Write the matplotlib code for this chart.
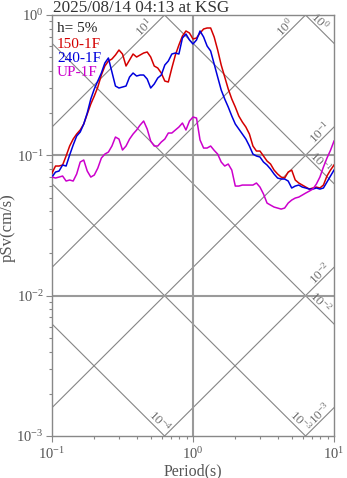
import numpy as np
import matplotlib
matplotlib.use('Agg')
import matplotlib.pyplot as plt

plt.rcParams['font.family'] = ['Liberation Serif', 'DejaVu Serif']
plt.rcParams['mathtext.fontset'] = 'custom'
plt.rcParams['mathtext.rm'] = 'Liberation Serif'
plt.rcParams['mathtext.it'] = 'Liberation Serif:italic'
plt.rcParams['mathtext.bf'] = 'Liberation Serif:bold'

title = "2025/08/14 04:13 at KSG"
damping_label = "h= 5%"
series_names = ["150-1F", "240-1F", "UP-1F"]
series_colors = ["#d40000", "#0000dd", "#cc00cc"]

period = [0.1, 0.1059, 0.1122, 0.1189, 0.1259, 0.1334, 0.1413, 0.1496, 0.1585, 0.1679,
          0.1778, 0.1884, 0.1995, 0.2113, 0.2239, 0.2371, 0.2512, 0.2661, 0.2818, 0.2985,
          0.3162, 0.335, 0.3548, 0.3758, 0.3981, 0.4217, 0.4467, 0.4732, 0.5012, 0.5309,
          0.5623, 0.5957, 0.631, 0.6683, 0.7079, 0.7499, 0.7943, 0.8414, 0.8913, 0.9441,
          1.0, 1.059, 1.122, 1.189, 1.259, 1.334, 1.413, 1.496, 1.585, 1.679,
          1.778, 1.884, 1.995, 2.113, 2.239, 2.371, 2.512, 2.661, 2.818, 2.985,
          3.162, 3.35, 3.548, 3.758, 3.981, 4.217, 4.467, 4.732, 5.012, 5.309,
          5.623, 5.957, 6.31, 6.683, 7.079, 7.499, 7.943, 8.414, 8.913, 9.441, 10.0]

sv_150 = [0.0748, 0.0839, 0.0839, 0.0853, 0.0989, 0.1165, 0.1306, 0.1418, 0.1515, 0.1671,
          0.197, 0.232, 0.2647, 0.3067, 0.3735, 0.433, 0.47, 0.4857, 0.5187, 0.563,
          0.5272, 0.433, 0.4777, 0.5272, 0.5019, 0.5187, 0.536, 0.5449, 0.5019, 0.433,
          0.419, 0.3859, 0.3384, 0.333, 0.419, 0.5187, 0.6112, 0.7086, 0.7691, 0.744,
          0.6744, 0.6856, 0.744, 0.7946, 0.808, 0.808, 0.697, 0.563, 0.4401, 0.3614,
          0.2969, 0.2519, 0.2209, 0.1906, 0.1727, 0.1591, 0.1418, 0.1165, 0.1073, 0.1073,
          0.0989, 0.0911, 0.0867, 0.0785, 0.0736, 0.07, 0.0689, 0.076, 0.0785, 0.0667,
          0.0635, 0.0614, 0.0594, 0.0575, 0.0585, 0.0594, 0.0585, 0.0614, 0.0712, 0.0785, 0.0853]

sv_240 = [0.07, 0.076, 0.0773, 0.0853, 0.0839, 0.1005, 0.1184, 0.1372, 0.1466, 0.1671,
          0.2001, 0.2519, 0.2969, 0.3384, 0.3859, 0.4548, 0.4938, 0.3924, 0.3118, 0.3018,
          0.3067, 0.3118, 0.3614, 0.3859, 0.3674, 0.3735, 0.3735, 0.3497, 0.3018, 0.3223,
          0.3556, 0.3735, 0.4401, 0.47, 0.5272, 0.536, 0.5272, 0.6856, 0.7318, 0.6637,
          0.6213, 0.6637, 0.7691, 0.697, 0.6012, 0.5538, 0.4474, 0.3614, 0.292, 0.2519,
          0.2209, 0.1906, 0.1671, 0.154, 0.1418, 0.1306, 0.1165, 0.1021, 0.0989, 0.0973,
          0.0896, 0.0853, 0.0798, 0.0736, 0.0689, 0.0678, 0.0678, 0.0656, 0.0585, 0.0604,
          0.0614, 0.0594, 0.0585, 0.0575, 0.0575, 0.0585, 0.0575, 0.0585, 0.0645, 0.0712, 0.0785]

sv_up = [0.07, 0.0689, 0.07, 0.0712, 0.0656, 0.0667, 0.0656, 0.0736, 0.0896, 0.0926,
         0.0773, 0.07, 0.0724, 0.0811, 0.0956, 0.1021, 0.1055, 0.1165, 0.135, 0.1306,
         0.1091, 0.1165, 0.1306, 0.1418, 0.1515, 0.1644, 0.1756, 0.154, 0.1264, 0.1165,
         0.1165, 0.1244, 0.1306, 0.1442, 0.1442, 0.1515, 0.1591, 0.1699, 0.1515, 0.1756,
         0.1875, 0.1844, 0.1285, 0.1127, 0.1127, 0.1165, 0.1085, 0.1021, 0.0896, 0.0839,
         0.0867, 0.0785, 0.0604, 0.0604, 0.0614, 0.0614, 0.0614, 0.0614, 0.0635, 0.0594,
         0.053, 0.0457, 0.0442, 0.0428, 0.0421, 0.0414, 0.0421, 0.0457, 0.048, 0.0496,
         0.0504, 0.0521, 0.0539, 0.0556, 0.0575, 0.0624, 0.07, 0.0825, 0.0956, 0.1085, 0.1264]

# tripartite guide values
disp_levels = [-4, -3, -2, -1, 0]     # log10 Sd (cm)
acc_levels = [-3, -2, -1, 0, 1]       # log10 Sa (cm/s^2)

W, H = 347, 478
fig = plt.figure(figsize=(W / 100, H / 100), dpi=100)
L, R, T_, B = 52, 334, 15, 436
ax = fig.add_axes([L / W, 1 - B / H, (R - L) / W, (B - T_) / H])
ax.set_xscale('log')
ax.set_yscale('log')
ax.set_xlim(0.1, 10)
ax.set_ylim(1e-3, 1)

guide_color = '#858585'
label_color = '#707070'
tt = np.array([0.01, 100.0])
twopi = 2 * np.pi
lg2pi = np.log10(twopi)
pxdec = (R - L) / 2.0

for k in disp_levels:
    sd = 10.0 ** k
    ax.plot(tt, twopi * sd / tt, color=guide_color, lw=0.8, zorder=1)
    u_end = lg2pi + k + 3
    if u_end <= 1:
        u, v = u_end, -3.0
        a, c = 10, 5
    else:
        u, v = 1.0, lg2pi + k - 1
        a, c = 18, 4
    u = u + (-a + c) / pxdec
    v = v + (a + c) / pxdec
    ax.text(10 ** u, 10 ** v, r'$10^{%d}$' % k, rotation=-45, rotation_mode='anchor',
            ha='center', va='center', fontsize=9.5, color=label_color, zorder=2)

for k in acc_levels:
    sa = 10.0 ** k
    ax.plot(tt, sa * tt / twopi, color=guide_color, lw=0.8, zorder=1)
    u_top = lg2pi - k
    if u_top <= 1:
        u, v = u_top, 0.0
        a, c = 16, 4
    else:
        u, v = 1.0, 1 + k - lg2pi
        a, c = 10, 4
    u = u + (-a - c) / pxdec
    v = v + (-a + c) / pxdec
    ax.text(10 ** u, 10 ** v, r'$10^{%d}$' % k, rotation=45, rotation_mode='anchor',
            ha='center', va='center', fontsize=9.5, color=label_color, zorder=2)

ax.axvline(1.0, color='#9a9a9a', lw=1.5, zorder=1.5)
ax.axhline(0.1, color='#9a9a9a', lw=1.5, zorder=1.5)
ax.axhline(0.01, color='#9a9a9a', lw=1.5, zorder=1.5)

for name, sv, col in zip(series_names, [sv_150, sv_240, sv_up], series_colors):
    ax.plot(period, sv, color=col, lw=1.1, zorder=3)

for s in ax.spines.values():
    s.set_color('#888888')
    s.set_linewidth(1.0)
ax.tick_params(which='both', direction='out', color='#888888', labelcolor='#555555',
               labelsize=10.5)
ax.tick_params(which='major', length=4, width=0.8)
ax.tick_params(which='minor', length=2.5, width=0.8)
ax.tick_params(axis='x', which='major', pad=3)
ax.tick_params(axis='y', which='major', pad=2)

# legend-like labels
ys = [29, 44, 58.5, 73]
ax.text((57 - L) / (R - L), (B - ys[0]) / (B - T_), damping_label, transform=ax.transAxes,
        ha='left', va='center', fontsize=11, color='#222222', zorder=4)
for yy, name, col in zip(ys[1:], series_names, series_colors):
    ax.text((57 - L) / (R - L), (B - yy) / (B - T_), name, transform=ax.transAxes,
            ha='left', va='center', fontsize=11, color=col, zorder=4)

fig.text(53 / W, 1 - 8 / H, title, ha='left', va='center', fontsize=12.3, color='#333333')
fig.text(193 / W, 1 - 471 / H, 'Period(s)', ha='center', va='center', fontsize=11.5,
         color='#555555')
fig.text(8 / W, 1 - 228 / H, 'pSv(cm/s)', ha='center', va='center', rotation=90,
         fontsize=12, color='#555555')

fig.savefig('out.png', dpi=100)
